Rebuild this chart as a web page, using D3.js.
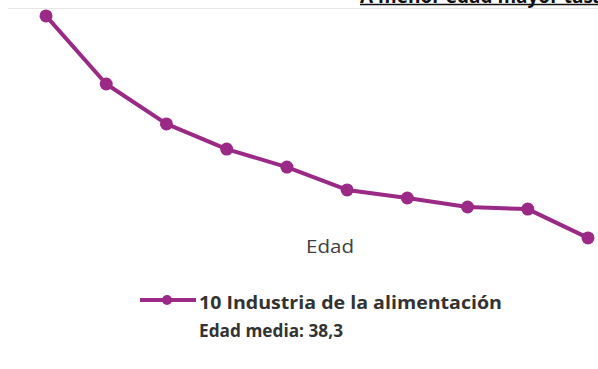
<!DOCTYPE html>
<html><head><meta charset="utf-8">
<script src="https://cdn.jsdelivr.net/npm/d3@7"></script>
<style>body{margin:0;background:#fff}svg{display:block}</style>
</head><body>
<script>
const categories = ["16-19","20-24","25-29","30-34","35-39","40-44","45-49","50-54","55-59","60-64"];
const values = [9.47, 7.2, 5.87, 5.03, 4.43, 3.67, 3.4, 3.1, 3.03, 2.07];
const seriesName = "10 Industria de la alimentación";
const seriesNote = "Edad media: 38,3";
const axisTitle = "Edad";
const headerText = "A menor edad mayor tasa";

const W = 598, H = 369;
const svg = d3.select("body").append("svg").attr("width", W).attr("height", H);
const color = "#9a2a86";
const font = "'Open Sans', Lato, sans-serif";

const x = d3.scalePoint().domain(categories).range([46, 588]);
const y = d3.scaleLinear().domain([0, 10]).range([300, 0]);

// header (cut off at top)
svg.append("text").attr("x", 360).attr("y", 3).attr("font-family", font)
  .attr("font-weight", "bold").attr("font-size", 19)
  .attr("fill", "#111").text(headerText);
svg.append("line").attr("x1", 360).attr("x2", 598).attr("y1", 4.5).attr("y2", 4.5)
  .attr("stroke", "#111").attr("stroke-width", 1.5);
svg.append("line").attr("x1", 8).attr("x2", 598).attr("y1", 8.5).attr("y2", 8.5)
  .attr("stroke", "#e6e6e6").attr("stroke-width", 1);

const line = d3.line().x((d, i) => x(categories[i])).y(d => y(d));
svg.append("path").datum(values).attr("d", line).attr("fill", "none")
  .attr("stroke", color).attr("stroke-width", 4).attr("stroke-linejoin", "round");
svg.selectAll("circle.pt").data(values).join("circle").attr("class", "pt")
  .attr("cx", (d, i) => x(categories[i])).attr("cy", d => y(d)).attr("r", 6.5).attr("fill", color);

svg.append("text").attr("x", 306).attr("y", 253)
  .attr("font-family", font).attr("font-size", 17.5).attr("textLength", 48).attr("lengthAdjust", "spacingAndGlyphs")
  .attr("fill", "#404040").text(axisTitle);

// legend
const lg = svg.append("g");
lg.append("line").attr("x1", 140).attr("x2", 196).attr("y1", 300).attr("y2", 300)
  .attr("stroke", color).attr("stroke-width", 4);
lg.append("circle").attr("cx", 167).attr("cy", 300).attr("r", 5).attr("fill", color);
lg.append("text").attr("x", 199).attr("y", 309).attr("font-family", font)
  .attr("font-weight", "bold").attr("font-size", 17.5).attr("textLength", 303).attr("lengthAdjust", "spacingAndGlyphs")
  .attr("fill", "#333").text(seriesName);
lg.append("text").attr("x", 199).attr("y", 337).attr("font-family", font)
  .attr("font-weight", "bold").attr("font-size", 17.5).attr("textLength", 144).attr("lengthAdjust", "spacingAndGlyphs")
  .attr("fill", "#333").text(seriesNote);
</script>
</body></html>
